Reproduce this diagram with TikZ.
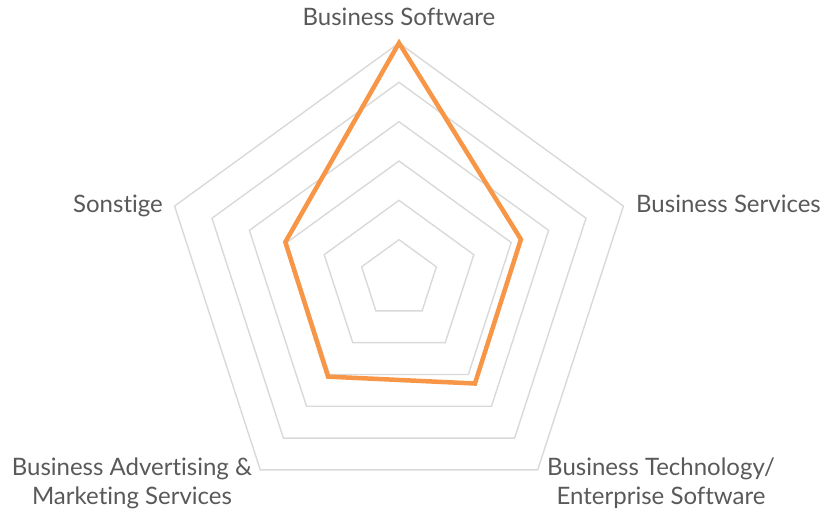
\documentclass[tikz,border=0pt]{standalone}
\usepackage{fontspec}
\setmainfont{Lato}[Ligatures=NoCommon]
\definecolor{ringgray}{HTML}{D9D9D9}
\definecolor{labelgray}{HTML}{595959}
\definecolor{seriesorange}{HTML}{F79646}
\begin{document}
\begin{tikzpicture}[x=1pt,y=1pt,
  ring/.style={draw=ringgray, line width=1.4pt},
  series/.style={draw=seriesorange, line width=4.5pt},
  axislabel/.style={text=labelgray, font=\fontsize{24}{29}\selectfont, inner sep=0pt}]
\useasboundingbox (-399,-231) rectangle (425,279);
%%% The rings of the radar grid
\foreach \k in {1,...,6}
  \draw[ring] (90:{\k*39.33}) -- (18:{\k*39.33}) -- (-54:{\k*39.33}) -- (-126:{\k*39.33}) -- (162:{\k*39.33}) -- cycle;
%%% The values of the series
\coordinate (software) at (90:236);
\coordinate (services) at (18:128.2);
\coordinate (technology) at (-54:129.2);
\coordinate (advertising) at (-126:120.7);
\coordinate (sonstige) at (162:119.5);
\draw[series] (software) -- (services) -- (technology) -- (advertising) -- (sonstige) -- cycle;
%%% The names of the axes
\node[axislabel, anchor=base] (lsoftware) at (0,253) {Business Software};
\node[axislabel, anchor=base west] (lservices) at (237,66) {Business Services};
\node[axislabel, anchor=base east] (lsonstige) at (-236,66) {Sonstige};
\node[axislabel, align=center, anchor=base] (ladvertising) at (-267,-226) {Business Advertising \&\\Marketing Services};
\node[axislabel, align=center, anchor=base] (ltechnology) at (262,-226) {Business Technology/\\Enterprise Software};
\end{tikzpicture}
\end{document}
